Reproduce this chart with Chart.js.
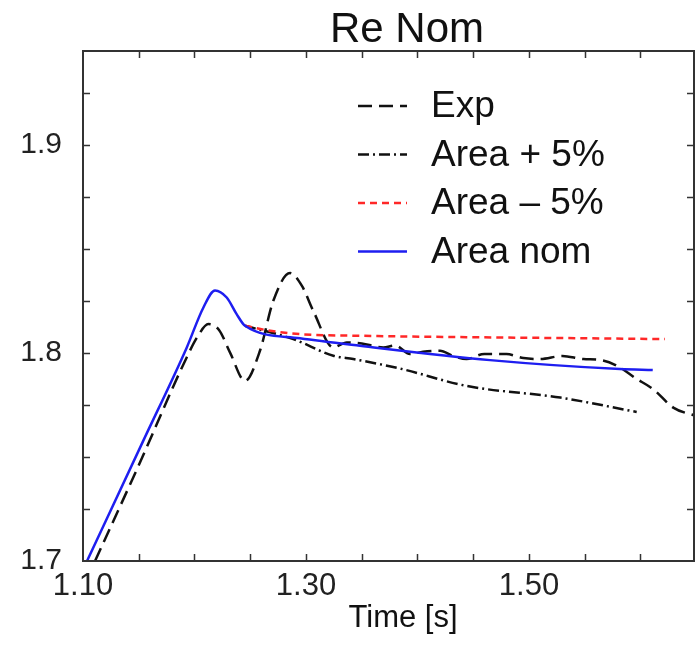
<!DOCTYPE html>
<html>
<head>
<meta charset="utf-8">
<script src="https://cdn.jsdelivr.net/npm/chart.js@4/dist/chart.umd.min.js"></script>
<style>
  html, body { margin: 0; padding: 0; background: #fff; }
  #wrap { width: 696px; height: 652px; position: relative; }
</style>
</head>
<body>
<div id="wrap"><canvas id="graph"></canvas></div>
<script>
// tick labels
const xTickLabels = [1.10, 1.30, 1.50];
const yTickLabels = [1.7, 1.8, 1.9];

// Exp (measured)
const expTime = [1.1108, 1.15, 1.193, 1.203, 1.2124, 1.222, 1.232, 1.2453, 1.2587, 1.2707, 1.2857, 1.2965,
  1.3065, 1.3245, 1.3365, 1.35, 1.3693, 1.38, 1.3933, 1.405, 1.4202, 1.432, 1.444, 1.46, 1.4798, 1.495,
  1.5099, 1.53, 1.5487, 1.565, 1.5816, 1.595, 1.6115, 1.6294, 1.6498];
const expValue = [1.700, 1.746, 1.7978, 1.808, 1.8138, 1.811, 1.800, 1.7865, 1.801, 1.825, 1.8383, 1.832,
  1.8202, 1.8026, 1.805, 1.8045, 1.8026, 1.8035, 1.7994, 1.8005, 1.801, 1.7985, 1.797, 1.7995, 1.7994, 1.7975,
  1.797, 1.7985, 1.797, 1.7965, 1.793, 1.788, 1.7825, 1.7737, 1.7697];

// Area + 5%
const plusTime = [1.2453, 1.2886, 1.3245, 1.3424, 1.384, 1.444, 1.528, 1.5966];
const plusValue = [1.813, 1.8066, 1.7986, 1.797, 1.7925, 1.7841, 1.7785, 1.7716];

// Area - 5%
const minusTime = [1.2453, 1.2647, 1.2946, 1.3484, 1.45, 1.55, 1.622];
const minusValue = [1.813, 1.8109, 1.809, 1.8082, 1.8075, 1.807, 1.8066];

// Area nom
const nomTime = [1.1036, 1.154, 1.193, 1.208, 1.2184, 1.2289, 1.2378, 1.2453, 1.2946, 1.3484, 1.465, 1.5816, 1.611];
const nomValue = [1.700, 1.7577, 1.8025, 1.8218, 1.8300, 1.8266, 1.8186, 1.8130, 1.8070, 1.8034, 1.7965, 1.7922, 1.7917];

const pts = (xs, ys) => xs.map((x, i) => ({x: x, y: ys[i]}));
const font = "'Liberation Sans', Arial, Helvetica, sans-serif";

const data = {
  datasets: [
    { label: 'Exp', data: pts(expTime, expValue), borderColor: '#111', borderWidth: 2.5,
      borderDash: [14, 7], order: 3 },
    { label: 'Area + 5%', data: pts(plusTime, plusValue), borderColor: '#111', borderWidth: 2.5,
      borderDash: [11, 4, 2, 4], order: 2 },
    { label: 'Area \u2013 5%', data: pts(minusTime, minusValue), borderColor: 'rgb(255,40,40)', borderWidth: 2.5,
      borderDash: [7, 5], order: 1 },
    { label: 'Area nom', data: pts(nomTime, nomValue), borderColor: 'rgb(30,30,240)', borderWidth: 2.5,
      order: 0 }
  ]
};

// box, inward ticks, legend and titles
const frame = {
  id: 'frame',
  afterDraw(chart) {
    const {ctx, chartArea: a, scales: {x, y}} = chart;
    ctx.save();
    ctx.strokeStyle = '#333';
    ctx.lineWidth = 2;
    ctx.setLineDash([]);
    ctx.strokeRect(a.left, a.top, a.right - a.left, a.bottom - a.top);
    ctx.lineWidth = 1.5;
    ctx.beginPath();
    for (let v = 1.15; v < x.max; v += 0.05) {
      const px = Math.round(x.getPixelForValue(v)) + 0.5;
      ctx.moveTo(px, a.bottom); ctx.lineTo(px, a.bottom - 7);
      ctx.moveTo(px, a.top); ctx.lineTo(px, a.top + 7);
    }
    for (let v = 1.725; v < y.max; v += 0.025) {
      const py = Math.round(y.getPixelForValue(v)) + 0.5;
      ctx.moveTo(a.left, py); ctx.lineTo(a.left + 7, py);
      ctx.moveTo(a.right, py); ctx.lineTo(a.right - 7, py);
    }
    ctx.stroke();

    // legend
    ctx.font = '37px ' + font;
    ctx.textBaseline = 'middle';
    ctx.textAlign = 'left';
    chart.data.datasets.forEach((ds, i) => {
      const yy = 106 + i * 48.5;
      ctx.strokeStyle = ds.borderColor;
      ctx.lineWidth = 2.5;
      ctx.setLineDash(ds.borderDash || []);
      ctx.beginPath();
      ctx.moveTo(358, yy); ctx.lineTo(407, yy);
      ctx.stroke();
      ctx.fillStyle = '#111';
      ctx.fillText(ds.label, 431, yy + 1);
    });

    ctx.setLineDash([]);
    ctx.fillStyle = '#111';
    ctx.textAlign = 'center';
    ctx.textBaseline = 'alphabetic';
    ctx.font = '42px ' + font;
    ctx.fillText('Re Nom', 407, 42);
    ctx.font = '31px ' + font;
    ctx.fillText('Time [s]', 403, 627);
    ctx.restore();
  }
};

const config = {
  type: 'line',
  data: data,
  options: {
    responsive: true,
    maintainAspectRatio: false,
    animation: false,
    layout: { padding: { left: 0, right: 2, top: 51, bottom: 0 } },
    elements: {
      point: { radius: 0 },
      line: { fill: false, cubicInterpolationMode: 'monotone' }
    },
    plugins: { legend: { display: false }, tooltip: { enabled: false }, title: { display: false } },
    scales: {
      x: {
        type: 'linear', min: 1.10, max: 1.648,
        grid: { display: false, drawTicks: false }, border: { display: false },
        afterBuildTicks: s => { s.ticks = xTickLabels.map(v => ({value: v})); },
        afterFit: s => { s.height = 91; },
        ticks: { autoSkip: false, maxRotation: 0, padding: 7, color: '#222',
          font: { family: font, size: 31 }, callback: v => Number(v).toFixed(2) }
      },
      y: {
        type: 'linear', min: 1.7, max: 1.945,
        grid: { display: false, drawTicks: false }, border: { display: false },
        afterBuildTicks: s => { s.ticks = yTickLabels.map(v => ({value: v})); },
        afterFit: s => { s.width = 83; },
        ticks: { autoSkip: false, padding: 21, color: '#222',
          font: { family: font, size: 30 }, callback: v => Number(v).toFixed(1) }
      }
    }
  },
  plugins: [frame]
};

const graph = document.querySelector('#graph');
new Chart(graph, config);
</script>
</body>
</html>
